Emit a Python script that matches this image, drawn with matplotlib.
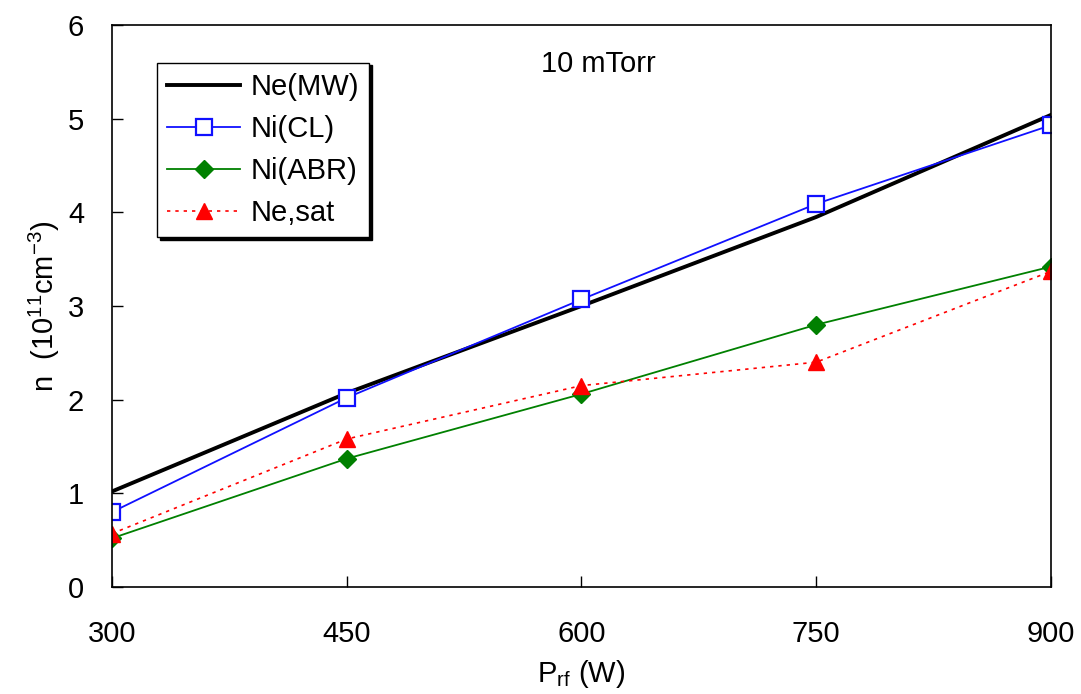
import matplotlib
matplotlib.use("Agg")
import matplotlib.pyplot as plt

plt.rcParams['font.family'] = ['Liberation Sans', 'DejaVu Sans']
plt.rcParams['mathtext.fontset'] = 'custom'
plt.rcParams['mathtext.rm'] = 'Liberation Sans'
plt.rcParams['mathtext.it'] = 'Liberation Sans'

# power (W)
p_rf = [300, 450, 600, 750, 900]

# densities (1e11 cm^-3)
ne_mw = [1.02, 2.07, 3.00, 3.95, 5.04]
ni_cl = [0.80, 2.02, 3.07, 4.09, 4.93]
ni_abr = [0.52, 1.37, 2.06, 2.80, 3.42]
ne_sat = [0.57, 1.58, 2.15, 2.40, 3.37]

fig = plt.figure(figsize=(10.81, 6.94), dpi=100)
ax = fig.add_axes([0.1036, 0.1542, 0.8686, 0.8098])

ax.plot(p_rf, ne_mw, color='black', lw=2.8, label='Ne(MW)')
ax.plot(p_rf, ni_cl, color='#1010ff', lw=1.3, marker='s', ms=12,
        mfc='white', mec='#1010ff', mew=1.6, label='Ni(CL)')
ax.plot(p_rf, ni_abr, color='#008000', lw=1.3, marker='D', ms=9,
        mfc='#008000', mec='#008000', label='Ni(ABR)')
ax.plot(p_rf, ne_sat, color='red', lw=1.2, ls=(0, (2, 3)), marker='^', ms=12,
        mfc='red', mec='red', label='Ne,sat')

ax.set_xlim(300, 900)
ax.set_ylim(0, 6)
ax.set_xticks(p_rf)
ax.set_yticks(range(0, 7))
ax.tick_params(direction='in', length=8, width=1, labelsize=21)
ax.tick_params(axis='x', pad=24)
ax.tick_params(axis='y', pad=20)

for s in ax.spines.values():
    s.set_linewidth(1.2)

ax.set_xlabel(r'P$_{\mathrm{rf}}$ (W)', fontsize=21, labelpad=7)
ax.set_ylabel(r'n  (10$^{11}$cm$^{-3}$)', fontsize=21, labelpad=4)

ax.text(611, 5.58, '10 mTorr', fontsize=21, ha='center', va='center')

leg = ax.legend(loc='upper left', bbox_to_anchor=(0.048, 0.933), fontsize=21,
                frameon=True, fancybox=False, shadow={'color': 'black', 'alpha': 1},
                edgecolor='black', framealpha=1, handlelength=2.5,
                borderpad=0.35, labelspacing=0.48, handletextpad=0.35,
                borderaxespad=0)
leg.get_frame().set_linewidth(1.0)

fig.savefig('out.png', dpi=100)
